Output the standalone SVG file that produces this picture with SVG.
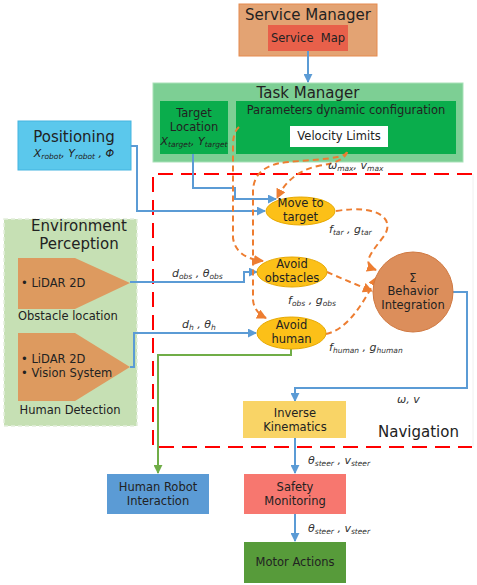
<svg xmlns="http://www.w3.org/2000/svg" width="477" height="585" viewBox="0 0 477 585">
<defs>
<style>
text{font-family:"DejaVu Sans",Verdana,sans-serif;fill:#222;}
.c{text-anchor:middle;}
.t15{font-size:15px;}
.t11{font-size:11.5px;}
.lab{font-size:11px;font-style:italic;fill:#333;}
.sub{font-size:7.5px;}
.blue{fill:none;stroke:#5b9bd5;stroke-width:2;}
.org{fill:none;stroke:#ed7d31;stroke-width:2;stroke-dasharray:6,4;}
.grn{fill:none;stroke:#70ad47;stroke-width:2;}
</style>
<marker id="ab" viewBox="0 0 10 10" refX="9" refY="5" markerWidth="9" markerHeight="9" markerUnits="userSpaceOnUse" orient="auto"><path d="M0,0 L10,5 L0,10 z" fill="#5b9bd5"/></marker>
<marker id="ao" viewBox="0 0 10 10" refX="9" refY="5" markerWidth="10" markerHeight="10" markerUnits="userSpaceOnUse" orient="auto"><path d="M0,0 L10,5 L0,10 z" fill="#ed7d31"/></marker>
<marker id="ag" viewBox="0 0 10 10" refX="9" refY="5" markerWidth="9" markerHeight="9" markerUnits="userSpaceOnUse" orient="auto"><path d="M0,0 L10,5 L0,10 z" fill="#70ad47"/></marker>
</defs>
<rect width="477" height="585" fill="#fff"/>

<g id="service-manager">
<rect x="239" y="4" width="138" height="52" fill="#e3a373" stroke="#e58a4e" stroke-width="1"/>
<text class="t15 c" x="308" y="20">Service Manager</text>
<rect x="268" y="25" width="80" height="26" fill="#e8604a"/>
<text class="t11 c" x="308" y="42" style="white-space:pre">Service  Map</text>
</g>

<g id="task-manager">
<rect x="153" y="83" width="310" height="79" fill="#7dcf94" stroke="#a9e1b8" stroke-width="1"/>
<text class="t15 c" x="308" y="98">Task Manager</text>
<rect x="160" y="101" width="68" height="53" fill="#0aad4c"/>
<text class="t11 c" x="194" y="117">Target</text>
<text class="t11 c" x="194" y="131">Location</text>
<text class="c" x="194" y="145" style="font-size:11px;font-style:italic">X<tspan class="sub" dy="2">target</tspan><tspan dy="-2">, Y</tspan><tspan class="sub" dy="2">target</tspan></text>
<rect x="236" y="101" width="220" height="53" fill="#0aad4c"/>
<text class="t11 c" x="346" y="114">Parameters dynamic configuration</text>
<rect x="290" y="126" width="98" height="21" fill="#fff"/>
<text class="t11 c" x="339" y="140">Velocity Limits</text>
</g>

<g id="positioning">
<rect x="18" y="121" width="113" height="49" fill="#5bc8ec" stroke="#44b4e0" stroke-width="1"/>
<text class="t15 c" x="74" y="142">Positioning</text>
<text class="c" x="74" y="157" style="font-size:11px;font-style:italic">X<tspan class="sub" dy="2">robot</tspan><tspan dy="-2">, Y</tspan><tspan class="sub" dy="2">robot</tspan><tspan dy="-2"> , Φ</tspan></text>
</g>

<g id="environment-perception">
<rect x="4" y="219" width="133" height="207" fill="#c6e0b4" stroke="#e4eedc" stroke-width="1.5" stroke-dasharray="4,3"/>
<text class="t15 c" x="79" y="231">Environment</text>
<text class="t15 c" x="79" y="249">Perception</text>
<g id="obstacle-location">
<polygon points="18,258 75,258 130,283 75,309 18,309" fill="#dd9a5f"/>
<text class="t11" x="21" y="287">• LiDAR 2D</text>
<text class="t11" x="18" y="320">Obstacle location</text>
</g>
<g id="human-detection">
<polygon points="18,333 75,333 130,367 75,401 18,401" fill="#dd9a5f"/>
<text class="t11" x="21" y="363">• LiDAR 2D</text>
<text class="t11" x="21" y="377">• Vision System</text>
<text class="t11 c" x="70" y="414">Human Detection</text>
</g>
</g>

<g id="navigation">
<line x1="473" y1="174" x2="473" y2="447" stroke="#f0f0f0" stroke-width="1"/>
<path d="M472,174 L153,174 L153,447 L472,447" fill="none" stroke="#ff0000" stroke-width="2" stroke-dasharray="15,8"/>
<text class="t15" x="378" y="437">Navigation</text>
</g>

<g id="connectors">
<path class="blue" d="M308,51 L308,82" marker-end="url(#ab)"/>
<path class="blue" d="M131,146 L137,146 L137,211 L265,211" marker-end="url(#ab)"/>
<path class="blue" d="M193,154 L193,188 L235,188 L235,199 L276,199" marker-end="url(#ab)"/>
<path class="blue" d="M130,282 L244,282 L244,272 L257,272" marker-end="url(#ab)"/>
<path class="blue" d="M130,367 L134,367 L134,333 L256,333" marker-end="url(#ab)"/>
<path class="grn" d="M291,349 L291,355 L158,355 L158,473" marker-end="url(#ag)"/>
<path class="blue" d="M453,292 L467,292 L467,388 L295,388 L295,401" marker-end="url(#ab)"/>
<path class="blue" d="M295,438 L295,473" marker-end="url(#ab)"/>
<path class="blue" d="M295,514 L295,541" marker-end="url(#ab)"/>
<path class="org" d="M347,152 Q345,162 318,166 Q290,172 277,198" marker-end="url(#ao)"/>
<path class="org" d="M347,152 C345,160 300,160 280,163 C262,167 253,176 253,192 L253,300 Q254,312 266,318" marker-end="url(#ao)"/>
<path class="org" d="M239,127 Q233,132 233,145 L233,238 Q236,258 263,261" marker-end="url(#ao)"/>
<path class="org" d="M336,211 C380,204 395,220 384,236 C372,252 360,264 376,270" marker-end="url(#ao)"/>
<path class="org" d="M327,272 Q345,280 372,291" marker-end="url(#ao)"/>
<path class="org" d="M326,334 C345,330 360,310 377,277" marker-end="url(#ao)"/>
</g>

<g id="labels">
<text class="lab" x="328" y="169">ω<tspan class="sub" dy="2">max</tspan><tspan dy="-2">, v</tspan><tspan class="sub" dy="2">max</tspan></text>
<text class="lab" x="329" y="233">f<tspan class="sub" dy="2">tar</tspan><tspan dy="-2"> , g</tspan><tspan class="sub" dy="2">tar</tspan></text>
<text class="lab" x="288" y="304">f<tspan class="sub" dy="2">obs</tspan><tspan dy="-2"> , g</tspan><tspan class="sub" dy="2">obs</tspan></text>
<text class="lab" x="329" y="351">f<tspan class="sub" dy="2">human</tspan><tspan dy="-2"> , g</tspan><tspan class="sub" dy="2">human</tspan></text>
<text class="lab" x="172" y="277">d<tspan class="sub" dy="2">obs</tspan><tspan dy="-2"> , θ</tspan><tspan class="sub" dy="2">obs</tspan></text>
<text class="lab" x="182" y="328">d<tspan class="sub" dy="2">h</tspan><tspan dy="-2"> , θ</tspan><tspan class="sub" dy="2">h</tspan></text>
<text class="lab" x="397" y="403">ω, v</text>
<text class="lab" x="308" y="464">θ<tspan class="sub" dy="2">steer</tspan><tspan dy="-2"> , v</tspan><tspan class="sub" dy="2">steer</tspan></text>
<text class="lab" x="308" y="532">θ<tspan class="sub" dy="2">steer</tspan><tspan dy="-2"> , v</tspan><tspan class="sub" dy="2">steer</tspan></text>
</g>

<g id="move-to-target">
<ellipse cx="300.5" cy="211" rx="34.5" ry="14" fill="#fcc018" stroke="#e6a800" stroke-width="1"/>
<text class="t11 c" x="300.5" y="207">Move to</text>
<text class="t11 c" x="300.5" y="221">target</text>
</g>
<g id="avoid-obstacles">
<ellipse cx="292" cy="272" rx="35" ry="15" fill="#fcc018" stroke="#e6a800" stroke-width="1"/>
<text class="t11 c" x="292" y="268">Avoid</text>
<text class="t11 c" x="292" y="282">obstacles</text>
</g>
<g id="avoid-human">
<ellipse cx="291.5" cy="333" rx="34.5" ry="16" fill="#fcc018" stroke="#e6a800" stroke-width="1"/>
<text class="t11 c" x="291.5" y="329">Avoid</text>
<text class="t11 c" x="291.5" y="343">human</text>
</g>
<g id="behavior-integration">
<circle cx="413" cy="292" r="40" fill="#dc8e5b" stroke="#d07840" stroke-width="1"/>
<text class="t11 c" x="413" y="282">Σ</text>
<text class="t11 c" x="413" y="295">Behavior</text>
<text class="t11 c" x="413" y="309">Integration</text>
</g>
<g id="inverse-kinematics">
<rect x="243" y="401" width="103" height="37" fill="#f9d466"/>
<text class="t11 c" x="295" y="417">Inverse</text>
<text class="t11 c" x="295" y="431">Kinematics</text>
</g>
<g id="human-robot-interaction">
<rect x="107" y="474" width="102" height="40" fill="#5b9bd5"/>
<text class="t11 c" x="158" y="491">Human Robot</text>
<text class="t11 c" x="158" y="505">Interaction</text>
</g>
<g id="safety-monitoring">
<rect x="244" y="474" width="102" height="40" fill="#f7776f"/>
<text class="t11 c" x="295" y="491">Safety</text>
<text class="t11 c" x="295" y="505">Monitoring</text>
</g>
<g id="motor-actions">
<rect x="244" y="542" width="102" height="41" fill="#579b3a"/>
<text class="t11 c" x="295" y="566">Motor Actions</text>
</g>
</svg>
